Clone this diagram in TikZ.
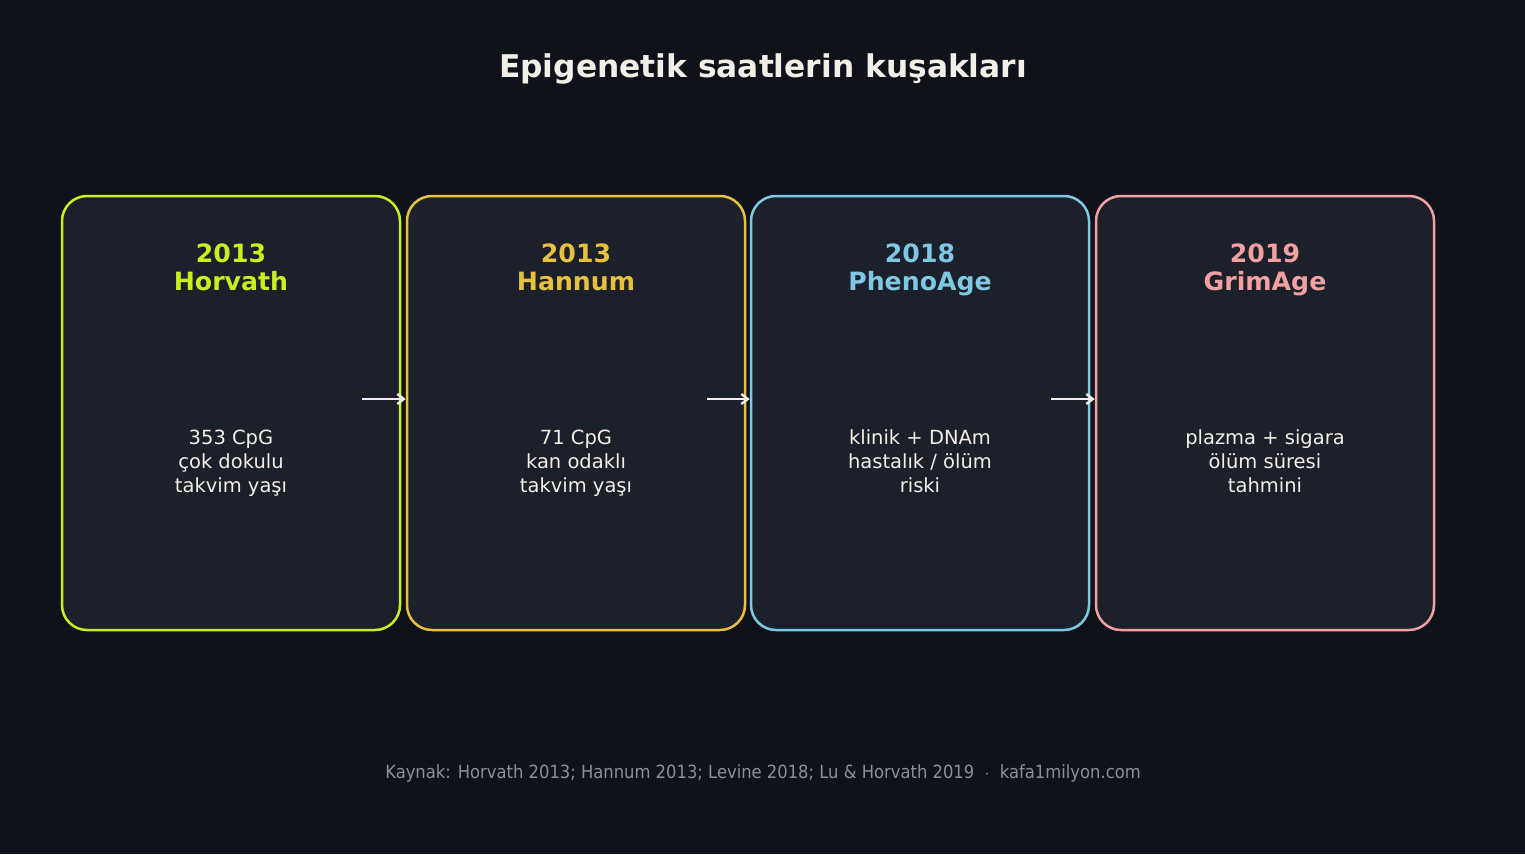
\documentclass[tikz,border=0pt]{standalone}
\usepackage{fontspec}
\setmainfont{DejaVu Sans}
\newfontfamily\footfont[FakeStretch=0.9]{DejaVu Sans}
\usetikzlibrary{arrows.meta,calc}
\definecolor{bg}{HTML}{0F121A}
\definecolor{boxfill}{HTML}{1C202A}
\definecolor{cA}{HTML}{C8F020}
\definecolor{cB}{HTML}{E8C040}
\definecolor{cC}{HTML}{7EC8E3}
\definecolor{cD}{HTML}{F2A0A0}
\definecolor{txt}{HTML}{F2EFE8}
\definecolor{foot}{HTML}{8A8F99}
\tikzset{
  x=1pt,y=1pt,
  card/.style={draw=#1,line width=2.5pt,fill=boxfill,rounded corners=25pt,
    minimum width=338pt,minimum height=434pt,inner sep=0pt},
  head/.style={text=#1,font=\fontsize{25.2}{28}\selectfont\bfseries,align=center,inner sep=0pt},
  body/.style={text=txt,font=\fontsize{19.5}{24}\selectfont,align=center,inner sep=0pt},
  conn/.style={draw=txt,line width=2.8pt,-{Straight Barb[length=6.5pt,width=10pt,line width=2.4pt]}},
}
\begin{document}
\begin{tikzpicture}
\fill[bg] (0,0) rectangle (1525,-854);
\useasboundingbox (0,0) rectangle (1525,-854);
\node[text=txt,font=\fontsize{31.3}{36}\selectfont\bfseries] (title) at (763,-69) {Epigenetik saatlerin kuşakları};
\node[card=cA] (b1) at (231,-413) {};
\node[card=cB] (b2) at (576,-413) {};
\node[card=cC] (b3) at (920,-413) {};
\node[card=cD] (b4) at (1265,-413) {};
\node[head=cA] (h1) at (231,-271) {\strut 2013\\\strut Horvath};
\node[head=cB] (h2) at (576,-271) {\strut 2013\\\strut Hannum};
\node[head=cC] (h3) at (920,-271) {\strut 2018\\\strut PhenoAge};
\node[head=cD] (h4) at (1265,-271) {\strut 2019\\\strut GrimAge};
\node[body] (t1) at (231,-464) {\strut 353 CpG\\\strut çok dokulu\\\strut takvim yaşı};
\node[body] (t2) at (576,-464) {\strut 71 CpG\\\strut kan odaklı\\\strut takvim yaşı};
\node[body] (t3) at (920,-464) {\strut klinik + DNAm\\\strut hastalık / ölüm\\\strut riski};
\node[body] (t4) at (1265,-464) {\strut plazma + sigara\\\strut ölüm süresi\\\strut tahmini};
\foreach \a/\b in {b1/b2,b2/b3,b3/b4}{
  \draw[conn] ($(\a.east)+(-39,14)$) -- ($(\b.west)+(0,14)$);
}
\node[text=foot,font=\footfont\fontsize{18.2}{22}\selectfont] (src) at (763,-773) {Kaynak: Horvath 2013; Hannum 2013; Levine 2018; Lu \& Horvath 2019 \ $\cdot$ \ kafa1milyon.com};
\end{tikzpicture}
\end{document}
